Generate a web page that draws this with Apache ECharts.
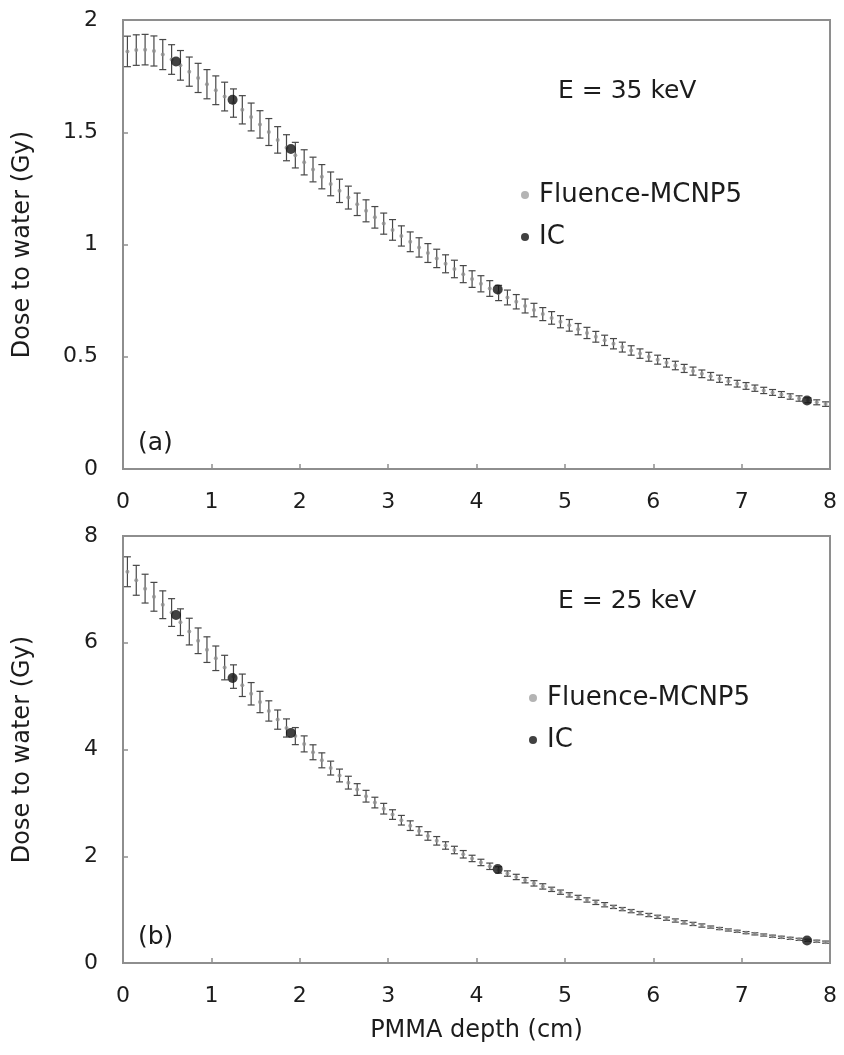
<!DOCTYPE html>
<html>
<head>
<meta charset="utf-8">
<title>Dose to water vs PMMA depth</title>
<script src="https://cdn.jsdelivr.net/npm/echarts@6/dist/echarts.min.js"></script>
<style>
  html, body { margin: 0; padding: 0; background: #ffffff; }
  #chart { width: 844px; height: 1055px; }
</style>
</head>
<body>
<div id="chart"></div>
<script>
// PMMA depth (cm) of each Fluence-MCNP5 tally
const depth = [
  0.05, 0.15, 0.25, 0.35, 0.45, 0.55, 0.65, 0.75, 0.85, 0.95,
  1.05, 1.15, 1.25, 1.35, 1.45, 1.55, 1.65, 1.75, 1.85, 1.95,
  2.05, 2.15, 2.25, 2.35, 2.45, 2.55, 2.65, 2.75, 2.85, 2.95,
  3.05, 3.15, 3.25, 3.35, 3.45, 3.55, 3.65, 3.75, 3.85, 3.95,
  4.05, 4.15, 4.25, 4.35, 4.45, 4.55, 4.65, 4.75, 4.85, 4.95,
  5.05, 5.15, 5.25, 5.35, 5.45, 5.55, 5.65, 5.75, 5.85, 5.95,
  6.05, 6.15, 6.25, 6.35, 6.45, 6.55, 6.65, 6.75, 6.85, 6.95,
  7.05, 7.15, 7.25, 7.35, 7.45, 7.55, 7.65, 7.75, 7.85, 7.95
];

// E = 35 keV: Fluence-MCNP5 dose (Gy) and its uncertainty (Gy)
const mcnp35 = [
  1.860, 1.866, 1.868, 1.862, 1.846, 1.824, 1.798, 1.770, 1.742, 1.714,
  1.687, 1.659, 1.630, 1.600, 1.568, 1.535, 1.501, 1.466, 1.431, 1.398,
  1.366, 1.334, 1.302, 1.270, 1.239, 1.209, 1.179, 1.150, 1.121, 1.093,
  1.065, 1.038, 1.012, 0.987, 0.962, 0.938, 0.914, 0.891, 0.868, 0.846,
  0.825, 0.804, 0.784, 0.764, 0.745, 0.726, 0.708, 0.690, 0.673, 0.656,
  0.640, 0.623, 0.606, 0.589, 0.573, 0.558, 0.543, 0.528, 0.514, 0.500,
  0.487, 0.473, 0.461, 0.448, 0.436, 0.424, 0.413, 0.402, 0.391, 0.380,
  0.370, 0.360, 0.350, 0.341, 0.332, 0.323, 0.314, 0.306, 0.297, 0.289
];
const err35 = [
  0.068, 0.068, 0.068, 0.067, 0.067, 0.066, 0.066, 0.065, 0.065, 0.065,
  0.064, 0.064, 0.063, 0.063, 0.062, 0.061, 0.060, 0.059, 0.058, 0.057,
  0.056, 0.055, 0.054, 0.053, 0.052, 0.051, 0.050, 0.049, 0.048, 0.047,
  0.046, 0.045, 0.044, 0.043, 0.042, 0.041, 0.040, 0.039, 0.038, 0.037,
  0.036, 0.035, 0.034, 0.033, 0.032, 0.031, 0.030, 0.029, 0.028, 0.027,
  0.026, 0.025, 0.025, 0.024, 0.023, 0.023, 0.022, 0.021, 0.021, 0.020,
  0.020, 0.019, 0.019, 0.018, 0.018, 0.017, 0.017, 0.016, 0.016, 0.015,
  0.015, 0.014, 0.014, 0.013, 0.013, 0.012, 0.012, 0.011, 0.011, 0.010
];

// E = 25 keV: Fluence-MCNP5 dose (Gy) and its uncertainty (Gy)
const mcnp25 = [
  7.330, 7.170, 7.014, 6.861, 6.712, 6.566, 6.385, 6.209, 6.037, 5.871,
  5.709, 5.535, 5.366, 5.203, 5.044, 4.890, 4.722, 4.560, 4.403, 4.251,
  4.105, 3.948, 3.797, 3.652, 3.513, 3.379, 3.250, 3.125, 3.006, 2.891,
  2.781, 2.675, 2.573, 2.474, 2.380, 2.289, 2.202, 2.117, 2.037, 1.959,
  1.884, 1.812, 1.743, 1.676, 1.612, 1.551, 1.492, 1.435, 1.380, 1.327,
  1.277, 1.228, 1.181, 1.136, 1.092, 1.051, 1.010, 0.972, 0.935, 0.899,
  0.865, 0.830, 0.796, 0.763, 0.732, 0.702, 0.673, 0.645, 0.619, 0.594,
  0.569, 0.546, 0.524, 0.502, 0.482, 0.462, 0.443, 0.425, 0.408, 0.391
];
const err25 = [
  0.28, 0.28, 0.27, 0.27, 0.26, 0.26, 0.25, 0.25, 0.24, 0.24,
  0.23, 0.23, 0.22, 0.21, 0.21, 0.20, 0.19, 0.18, 0.17, 0.16,
  0.15, 0.14, 0.14, 0.13, 0.12, 0.12, 0.11, 0.11, 0.10, 0.10,
  0.09, 0.09, 0.09, 0.08, 0.08, 0.08, 0.07, 0.07, 0.07, 0.06,
  0.06, 0.06, 0.06, 0.05, 0.05, 0.05, 0.05, 0.05, 0.04, 0.04,
  0.04, 0.04, 0.04, 0.04, 0.04, 0.03, 0.03, 0.03, 0.03, 0.03,
  0.03, 0.03, 0.03, 0.03, 0.03, 0.03, 0.02, 0.02, 0.02, 0.02,
  0.02, 0.02, 0.02, 0.02, 0.02, 0.02, 0.02, 0.02, 0.02, 0.02
];

// Ionisation chamber measurements
const icDepth = [0.60, 1.24, 1.90, 4.24, 7.74];
const ic35 = [1.815, 1.645, 1.425, 0.800, 0.305];
const ic25 = [6.52, 5.34, 4.31, 1.76, 0.42];

// Axis ticks
const xTicks = [0, 1, 2, 3, 4, 5, 6, 7, 8];
const yTicks35 = [0, 0.5, 1, 1.5, 2];
const yTicks25 = [0, 2, 4, 6, 8];

const FONT = 'DejaVu Sans';
const TEXT = '#1c1c1c';
const FRAME = '#8e8e8e';

const pairs = (xs, ys) => xs.map((x, i) => [x, ys[i]]);
const bars = (xs, ys, es) => xs.map((x, i) => [x, ys[i] - es[i], ys[i] + es[i]]);

// Vertical error bar with small caps, placed through the grid's own scales
function errorBar(params, api) {
  const x = api.value(0);
  const lo = api.coord([x, api.value(1)]);
  const hi = api.coord([x, api.value(2)]);
  const cap = 3.5;
  const style = { stroke: '#474747', lineWidth: 1.2 };
  return {
    type: 'group',
    children: [
      { type: 'line', shape: { x1: hi[0], y1: hi[1], x2: lo[0], y2: lo[1] }, style },
      { type: 'line', shape: { x1: hi[0] - cap, y1: hi[1], x2: hi[0] + cap, y2: hi[1] }, style },
      { type: 'line', shape: { x1: lo[0] - cap, y1: lo[1], x2: lo[0] + cap, y2: lo[1] }, style }
    ]
  };
}

function xAxis(gridIndex, withName) {
  return {
    type: 'value', gridIndex, min: xTicks[0], max: xTicks[xTicks.length - 1], interval: 1,
    name: withName ? 'PMMA depth (cm)' : '',
    nameLocation: 'middle', nameGap: 56,
    nameTextStyle: { fontFamily: FONT, fontSize: 24, color: TEXT },
    axisLine: { show: true, lineStyle: { color: FRAME, width: 2 } },
    axisTick: { show: true, inside: true, length: 5, lineStyle: { color: FRAME, width: 1.5 } },
    axisLabel: { fontFamily: FONT, fontSize: 22, color: TEXT, margin: 22 },
    splitLine: { show: false }
  };
}

function yAxis(gridIndex, ticks) {
  return {
    type: 'value', gridIndex, min: ticks[0], max: ticks[ticks.length - 1],
    interval: ticks[1] - ticks[0],
    name: 'Dose to water (Gy)', nameLocation: 'middle', nameRotate: 90, nameGap: 88,
    nameTextStyle: { fontFamily: FONT, fontSize: 24, color: TEXT },
    axisLine: { show: true, lineStyle: { color: FRAME, width: 2 } },
    axisTick: { show: true, inside: true, length: 5, lineStyle: { color: FRAME, width: 1.5 } },
    axisLabel: { fontFamily: FONT, fontSize: 22, color: TEXT, margin: 25 },
    splitLine: { show: false }
  };
}

function legend(left, top) {
  return {
    orient: 'vertical', left, top, itemGap: 16, itemWidth: 8, itemHeight: 8,
    selectedMode: false,
    textStyle: { fontFamily: FONT, fontSize: 26, color: TEXT, padding: [0, 0, 0, 5] },
    data: [
      { name: 'Fluence-MCNP5', icon: 'circle', itemStyle: { color: '#b4b4b4' } },
      { name: 'IC', icon: 'circle', itemStyle: { color: '#111111' } }
    ]
  };
}

function panelSeries(idx, values, errors, ic) {
  return [
    {
      name: 'Fluence-MCNP5', type: 'custom', xAxisIndex: idx, yAxisIndex: idx,
      renderItem: errorBar, data: bars(depth, values, errors), silent: true, z: 2
    },
    {
      name: 'Fluence-MCNP5', type: 'scatter', xAxisIndex: idx, yAxisIndex: idx,
      symbol: 'circle', symbolSize: 4, itemStyle: { color: '#8f8f8f' },
      data: pairs(depth, values), silent: true, z: 3
    },
    {
      name: 'IC', type: 'scatter', xAxisIndex: idx, yAxisIndex: idx,
      symbol: 'circle', symbolSize: 10, itemStyle: { color: '#111111' },
      data: pairs(icDepth, ic), silent: true, z: 4
    }
  ];
}

function label(text, x, y) {
  return {
    type: 'text', x, y, silent: true,
    style: { text, fontFamily: FONT, fontSize: 25, fill: TEXT, align: 'left', verticalAlign: 'middle' }
  };
}

const chart = echarts.init(document.getElementById('chart'), null, { renderer: 'canvas' });
chart.setOption({
  backgroundColor: '#ffffff',
  animation: false,
  grid: [
    { left: 123, top: 20, width: 707, height: 449, show: true, borderColor: FRAME, borderWidth: 2, backgroundColor: 'transparent' },
    { left: 123, top: 536, width: 707, height: 427, show: true, borderColor: FRAME, borderWidth: 2, backgroundColor: 'transparent' }
  ],
  xAxis: [xAxis(0, false), xAxis(1, true)],
  yAxis: [yAxis(0, yTicks35), yAxis(1, yTicks25)],
  legend: [legend(516, 177), legend(524, 680)],
  graphic: [
    label('E = 35 keV', 558, 91),
    label('(a)', 138, 443),
    label('E = 25 keV', 558, 601),
    label('(b)', 138, 937)
  ],
  series: [
    ...panelSeries(0, mcnp35, err35, ic35),
    ...panelSeries(1, mcnp25, err25, ic25)
  ]
});
</script>
</body>
</html>
